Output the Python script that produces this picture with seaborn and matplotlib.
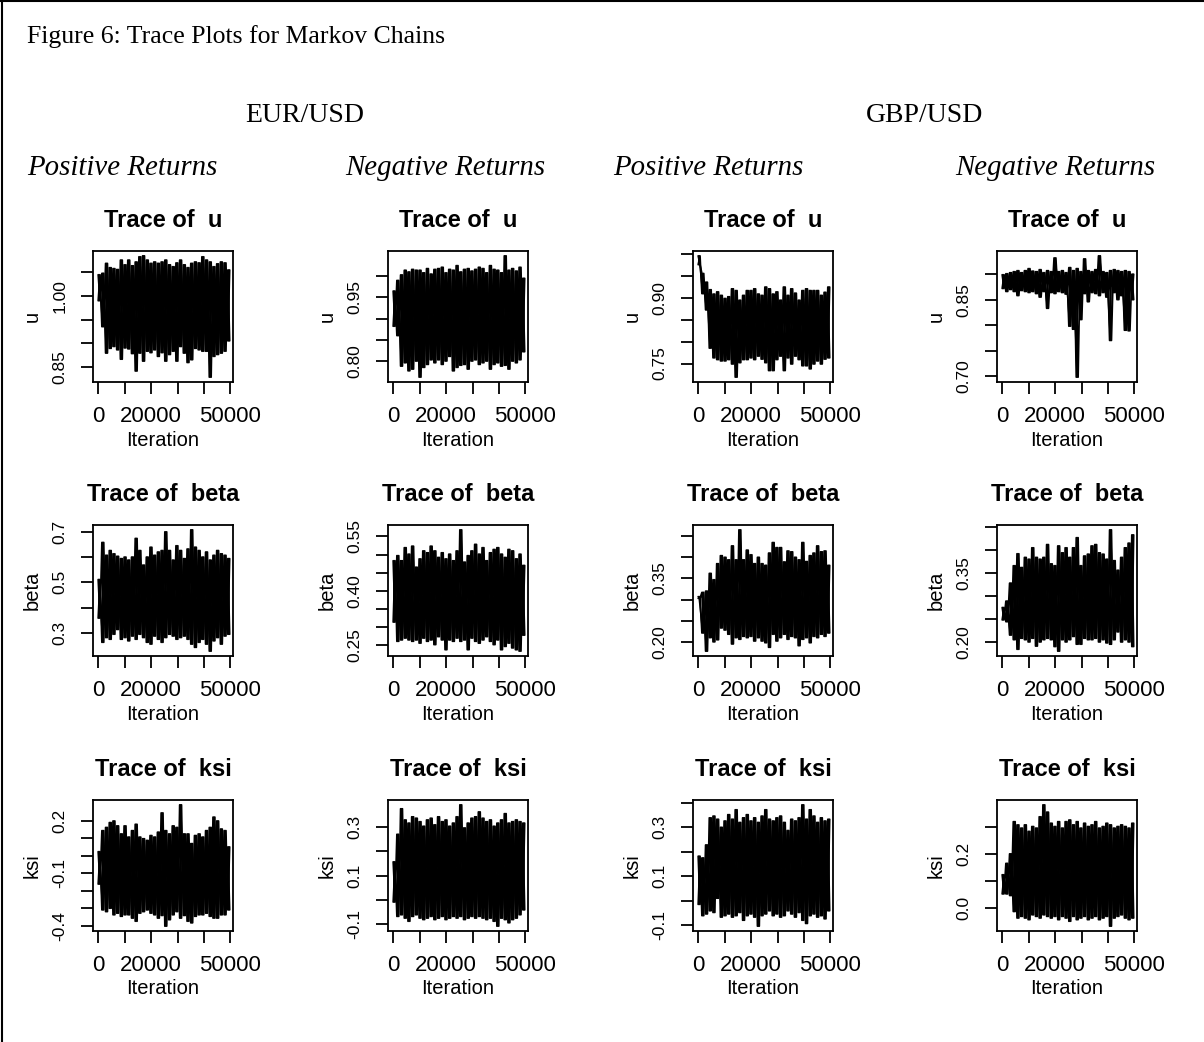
import pandas as pd
import seaborn as sns
import matplotlib.pyplot as plt
from matplotlib.lines import Line2D

W, H = 1204, 1042

# 采样位置 (迭代次数)
iterations = [0, 1400, 2800, 4200, 5600, 7000, 8400, 9800, 11200, 12600,
              14000, 15400, 16800, 18200, 19600, 21000, 22400, 23800, 25200, 26600,
              28000, 29400, 30800, 32200, 33600, 35000, 36400, 37800, 39200, 40600,
              42000, 43400, 44800, 46200, 47600, 49000]

# 每条链在各采样位置的上/下包络
eur_pos_u_hi = [1.045, 1.048, 1.069, 1.060, 1.058, 1.056, 1.076, 1.066, 1.076, 1.064, 1.072, 1.083,
                1.085, 1.076, 1.069, 1.072, 1.069, 1.072, 1.076, 1.066, 1.062, 1.070, 1.076, 1.066,
                1.060, 1.069, 1.072, 1.070, 1.083, 1.076, 1.072, 1.062, 1.068, 1.072, 1.070, 1.055]
eur_pos_u_lo = [0.990, 0.935, 0.879, 0.889, 0.893, 0.886, 0.866, 0.890, 0.888, 0.878, 0.841, 0.879,
                0.862, 0.883, 0.880, 0.886, 0.872, 0.880, 0.862, 0.876, 0.883, 0.862, 0.893, 0.879,
                0.859, 0.865, 0.889, 0.886, 0.883, 0.883, 0.828, 0.872, 0.876, 0.879, 0.883, 0.905]

eur_neg_u_hi = [0.965, 0.990, 1.003, 1.014, 1.010, 1.016, 1.014, 1.014, 1.008, 1.018, 1.005, 1.016,
                1.018, 1.021, 1.008, 1.016, 1.014, 1.025, 1.010, 1.016, 1.018, 1.012, 1.016, 1.021,
                1.018, 1.008, 1.025, 1.016, 1.014, 1.008, 1.048, 1.014, 1.018, 1.012, 1.021, 0.995]
eur_neg_u_lo = [0.882, 0.860, 0.788, 0.796, 0.777, 0.781, 0.800, 0.762, 0.785, 0.792, 0.803, 0.796,
                0.803, 0.792, 0.800, 0.811, 0.777, 0.785, 0.790, 0.792, 0.781, 0.800, 0.803, 0.792,
                0.796, 0.800, 0.781, 0.792, 0.796, 0.788, 0.790, 0.781, 0.800, 0.796, 0.803, 0.822]

gbp_pos_u_hi = [0.995, 0.955, 0.935, 0.918, 0.908, 0.913, 0.905, 0.898, 0.902, 0.920, 0.916, 0.894,
                0.905, 0.916, 0.916, 0.920, 0.908, 0.905, 0.924, 0.920, 0.908, 0.913, 0.894, 0.924,
                0.905, 0.920, 0.910, 0.894, 0.916, 0.920, 0.916, 0.916, 0.916, 0.905, 0.912, 0.924]
gbp_pos_u_lo = [0.975, 0.909, 0.872, 0.785, 0.763, 0.759, 0.756, 0.756, 0.759, 0.749, 0.719, 0.752,
                0.759, 0.759, 0.763, 0.759, 0.767, 0.760, 0.752, 0.734, 0.734, 0.759, 0.767, 0.734,
                0.763, 0.749, 0.767, 0.759, 0.745, 0.745, 0.738, 0.749, 0.756, 0.749, 0.760, 0.763]

gbp_neg_u_hi = [0.899, 0.901, 0.903, 0.905, 0.907, 0.903, 0.907, 0.911, 0.906, 0.905, 0.909, 0.903,
                0.907, 0.905, 0.932, 0.905, 0.907, 0.903, 0.913, 0.907, 0.911, 0.905, 0.930, 0.907,
                0.905, 0.909, 0.936, 0.905, 0.903, 0.907, 0.909, 0.907, 0.905, 0.907, 0.905, 0.900]
gbp_neg_u_lo = [0.872, 0.866, 0.870, 0.866, 0.858, 0.868, 0.866, 0.864, 0.866, 0.862, 0.855, 0.866,
                0.833, 0.864, 0.862, 0.866, 0.864, 0.861, 0.798, 0.792, 0.698, 0.811, 0.862, 0.846,
                0.864, 0.862, 0.858, 0.864, 0.855, 0.770, 0.864, 0.850, 0.858, 0.790, 0.789, 0.850]

eur_pos_beta_hi = [0.511, 0.658, 0.607, 0.626, 0.613, 0.603, 0.594, 0.600, 0.588, 0.600, 0.674, 0.626,
                   0.568, 0.600, 0.639, 0.607, 0.620, 0.626, 0.700, 0.626, 0.588, 0.645, 0.626, 0.594,
                   0.632, 0.708, 0.639, 0.626, 0.600, 0.620, 0.588, 0.607, 0.626, 0.613, 0.607, 0.594]
eur_pos_beta_lo = [0.358, 0.262, 0.281, 0.274, 0.294, 0.313, 0.274, 0.281, 0.268, 0.287, 0.274, 0.294,
                   0.281, 0.262, 0.255, 0.287, 0.274, 0.262, 0.281, 0.294, 0.287, 0.274, 0.281, 0.287,
                   0.274, 0.255, 0.242, 0.262, 0.274, 0.255, 0.227, 0.268, 0.281, 0.255, 0.287, 0.294]

eur_neg_beta_hi = [0.483, 0.497, 0.483, 0.519, 0.501, 0.523, 0.465, 0.488, 0.510, 0.505, 0.523, 0.510,
                   0.492, 0.505, 0.488, 0.501, 0.483, 0.510, 0.568, 0.479, 0.497, 0.510, 0.528, 0.501,
                   0.519, 0.483, 0.505, 0.514, 0.519, 0.501, 0.492, 0.514, 0.510, 0.488, 0.501, 0.470]
eur_neg_beta_lo = [0.314, 0.261, 0.265, 0.270, 0.265, 0.261, 0.265, 0.256, 0.270, 0.261, 0.265, 0.252,
                   0.274, 0.265, 0.238, 0.265, 0.261, 0.270, 0.261, 0.265, 0.238, 0.270, 0.261, 0.256,
                   0.265, 0.274, 0.261, 0.252, 0.265, 0.238, 0.247, 0.256, 0.243, 0.238, 0.234, 0.278]

gbp_pos_beta_hi = [0.307, 0.317, 0.320, 0.362, 0.347, 0.385, 0.404, 0.400, 0.394, 0.427, 0.394, 0.465,
                   0.394, 0.417, 0.406, 0.385, 0.400, 0.385, 0.381, 0.410, 0.435, 0.423, 0.423, 0.389,
                   0.415, 0.413, 0.400, 0.394, 0.435, 0.390, 0.404, 0.410, 0.427, 0.413, 0.415, 0.381]
gbp_pos_beta_lo = [0.303, 0.221, 0.178, 0.210, 0.200, 0.205, 0.233, 0.228, 0.218, 0.195, 0.210, 0.206,
                   0.213, 0.210, 0.213, 0.202, 0.210, 0.202, 0.198, 0.187, 0.218, 0.202, 0.210, 0.218,
                   0.206, 0.213, 0.210, 0.191, 0.206, 0.210, 0.198, 0.213, 0.210, 0.218, 0.213, 0.221]

gbp_neg_beta_hi = [0.275, 0.289, 0.328, 0.366, 0.392, 0.362, 0.384, 0.380, 0.405, 0.384, 0.380, 0.384,
                   0.412, 0.370, 0.366, 0.409, 0.394, 0.405, 0.384, 0.405, 0.427, 0.366, 0.387, 0.391,
                   0.409, 0.412, 0.394, 0.391, 0.380, 0.444, 0.377, 0.356, 0.384, 0.405, 0.415, 0.433]
gbp_neg_beta_lo = [0.248, 0.244, 0.215, 0.205, 0.184, 0.208, 0.205, 0.200, 0.208, 0.191, 0.200, 0.205,
                   0.208, 0.205, 0.190, 0.180, 0.205, 0.200, 0.205, 0.212, 0.195, 0.195, 0.208, 0.205,
                   0.205, 0.208, 0.200, 0.205, 0.198, 0.195, 0.205, 0.222, 0.200, 0.205, 0.200, 0.190]

eur_pos_ksi_hi = [0.024, 0.144, 0.162, 0.190, 0.199, 0.171, 0.125, 0.171, 0.107, 0.144, 0.180, 0.107,
                  0.098, 0.088, 0.116, 0.107, 0.135, 0.245, 0.144, 0.125, 0.171, 0.162, 0.291, 0.125,
                  0.125, 0.070, 0.116, 0.125, 0.107, 0.144, 0.162, 0.221, 0.199, 0.153, 0.144, 0.051]
eur_pos_ksi_lo = [-0.161, -0.308, -0.318, -0.299, -0.336, -0.327, -0.345, -0.336, -0.336, -0.355,
                  -0.373, -0.327, -0.318, -0.308, -0.327, -0.336, -0.355, -0.340, -0.401, -0.364,
                  -0.336, -0.318, -0.355, -0.340, -0.373, -0.382, -0.345, -0.336, -0.336, -0.327,
                  -0.345, -0.355, -0.355, -0.336, -0.336, -0.308]

eur_neg_ksi_hi = [0.157, 0.270, 0.375, 0.329, 0.316, 0.342, 0.336, 0.322, 0.303, 0.329, 0.336, 0.309,
                  0.342, 0.322, 0.329, 0.303, 0.316, 0.342, 0.391, 0.296, 0.316, 0.336, 0.342, 0.362,
                  0.336, 0.322, 0.329, 0.303, 0.316, 0.329, 0.355, 0.316, 0.322, 0.329, 0.322, 0.316]
eur_neg_ksi_lo = [-0.008, -0.067, -0.060, -0.074, -0.087, -0.067, -0.060, -0.074, -0.080, -0.074,
                  -0.067, -0.080, -0.074, -0.067, -0.080, -0.074, -0.067, -0.074, -0.067, -0.080,
                  -0.074, -0.067, -0.074, -0.067, -0.074, -0.080, -0.074, -0.087, -0.107, -0.074,
                  -0.080, -0.093, -0.080, -0.074, -0.060, -0.040]

gbp_pos_ksi_hi = [0.182, 0.175, 0.228, 0.339, 0.346, 0.333, 0.300, 0.326, 0.352, 0.333, 0.372, 0.320,
                  0.339, 0.352, 0.326, 0.339, 0.320, 0.346, 0.372, 0.333, 0.326, 0.339, 0.346, 0.320,
                  0.287, 0.333, 0.326, 0.339, 0.392, 0.333, 0.372, 0.346, 0.320, 0.339, 0.326, 0.333]
gbp_pos_ksi_lo = [-0.015, -0.061, -0.054, -0.041, -0.048, 0.010, -0.067, -0.061, -0.054, -0.067,
                  -0.061, -0.048, -0.080, -0.061, -0.054, -0.067, -0.104, -0.061, -0.054, -0.041,
                  -0.061, -0.054, -0.067, -0.061, -0.041, -0.054, -0.067, -0.048, -0.080, -0.093,
                  -0.061, -0.054, -0.067, -0.061, -0.074, -0.041]

gbp_neg_ksi_hi = [0.122, 0.164, 0.199, 0.318, 0.306, 0.294, 0.306, 0.282, 0.300, 0.294, 0.336, 0.380,
                  0.353, 0.312, 0.300, 0.318, 0.294, 0.318, 0.324, 0.306, 0.318, 0.294, 0.312, 0.300,
                  0.306, 0.318, 0.294, 0.300, 0.312, 0.306, 0.294, 0.300, 0.306, 0.300, 0.294, 0.312]
gbp_neg_ksi_lo = [0.051, 0.051, 0.045, -0.014, -0.038, -0.032, -0.038, -0.044, -0.026, -0.032,
                  -0.038, -0.026, -0.032, -0.038, -0.032, -0.044, -0.032, -0.038, -0.050, -0.032,
                  -0.044, -0.038, -0.032, -0.044, -0.038, -0.032, -0.044, -0.038, -0.032, -0.068,
                  -0.038, -0.032, -0.026, -0.038, -0.044, -0.038]

# 坐标轴刻度
x_ticks = [0, 10000, 20000, 30000, 40000, 50000]
x_ticklabels = ['0', '', '20000', '', '', '50000']

panels = [
    # (行, 列, 参数, 上包络, 下包络, y刻度, y刻度标签)
    (0, 0, 'u', eur_pos_u_hi, eur_pos_u_lo, [0.85, 0.90, 0.95, 1.00, 1.05], ['0.85', '', '', '1.00', '']),
    (0, 1, 'u', eur_neg_u_hi, eur_neg_u_lo, [0.80, 0.85, 0.90, 0.95, 1.00], ['0.80', '', '', '0.95', '']),
    (0, 2, 'u', gbp_pos_u_hi, gbp_pos_u_lo, [0.75, 0.80, 0.85, 0.90, 0.95, 1.00], ['0.75', '', '', '0.90', '', '']),
    (0, 3, 'u', gbp_neg_u_hi, gbp_neg_u_lo, [0.70, 0.75, 0.80, 0.85, 0.90], ['0.70', '', '', '0.85', '']),
    (1, 0, 'beta', eur_pos_beta_hi, eur_pos_beta_lo, [0.3, 0.4, 0.5, 0.6, 0.7], ['0.3', '', '0.5', '', '0.7']),
    (1, 1, 'beta', eur_neg_beta_hi, eur_neg_beta_lo, [0.25, 0.30, 0.35, 0.40, 0.45, 0.50, 0.55],
     ['0.25', '', '', '0.40', '', '', '0.55']),
    (1, 2, 'beta', gbp_pos_beta_hi, gbp_pos_beta_lo, [0.20, 0.25, 0.30, 0.35, 0.40, 0.45],
     ['0.20', '', '', '0.35', '', '']),
    (1, 3, 'beta', gbp_neg_beta_hi, gbp_neg_beta_lo, [0.20, 0.25, 0.30, 0.35, 0.40, 0.45],
     ['0.20', '', '', '0.35', '', '']),
    (2, 0, 'ksi', eur_pos_ksi_hi, eur_pos_ksi_lo, [-0.4, -0.3, -0.2, -0.1, 0.0, 0.1, 0.2],
     ['-0.4', '', '', '-0.1', '', '', '0.2']),
    (2, 1, 'ksi', eur_neg_ksi_hi, eur_neg_ksi_lo, [-0.1, 0.0, 0.1, 0.2, 0.3], ['-0.1', '', '0.1', '', '0.3']),
    (2, 2, 'ksi', gbp_pos_ksi_hi, gbp_pos_ksi_lo, [-0.1, 0.0, 0.1, 0.2, 0.3, 0.4],
     ['-0.1', '', '0.1', '', '0.3', '']),
    (2, 3, 'ksi', gbp_neg_ksi_hi, gbp_neg_ksi_lo, [0.0, 0.1, 0.2, 0.3], ['0.0', '', '0.2', '']),
]

sns.set_theme(style='ticks')
plt.rcParams['font.family'] = ['Liberation Sans', 'DejaVu Sans']
plt.rcParams['text.color'] = 'black'
plt.rcParams['axes.labelcolor'] = 'black'
plt.rcParams['xtick.color'] = 'black'
plt.rcParams['ytick.color'] = 'black'

col_left = [93, 388, 693, 997]
row_top = [251, 525, 800]
box_w, box_h = 140, 131


def trace_frame(hi, lo):
    # 上下包络交替连接 (三种相位), 画成密集的轨迹带
    rows = []
    for it, a, b in zip(iterations, lo, hi):
        rows += [(it, a, 0), (it + 700, b, 0)]
        rows += [(it, b, 1), (it + 700, a, 1)]
        rows += [(it + 350, a, 2), (it + 350, b, 2)]
    return pd.DataFrame(rows, columns=['Iteration', 'value', 'phase'])


fig = plt.figure(figsize=(W / 100, H / 100), dpi=100)

for row, col, name, hi, lo, yt, ytl in panels:
    ax = fig.add_axes([col_left[col] / W, 1 - (row_top[row] + box_h) / H, box_w / W, box_h / H])
    sns.lineplot(data=trace_frame(hi, lo), x='Iteration', y='value', units='phase', sort=False,
                 estimator=None, color='black', linewidth=1.25, ax=ax)

    # R 默认的 4% 扩展
    span = max(hi) - min(lo)
    ax.set_ylim(min(lo) - 0.04 * span, max(hi) + 0.04 * span)
    ax.set_xlim(-0.04 * 49000, 49000 * 1.04)

    ax.set_xticks(x_ticks)
    ax.set_xticklabels(x_ticklabels, fontsize=16)
    ax.set_yticks(yt)
    ax.set_yticklabels(ytl, fontsize=12.5, rotation=90, va='center', ha='center')
    ax.tick_params(axis='x', length=8.6, width=1.3, pad=9, color='black')
    ax.tick_params(axis='y', length=8.6, width=1.3, pad=15, color='black')
    for sp in ax.spines.values():
        sp.set_linewidth(1.3)
        sp.set_color('black')

    ax.set_title('Trace of  ' + name, fontsize=17, fontweight='bold', pad=17)
    ax.set_xlabel('Iteration', fontsize=14.5)
    ax.xaxis.set_label_coords(0.5, -58 / box_h)
    ax.xaxis.label.set_verticalalignment('center')
    ax.set_ylabel(name, fontsize=14.5)
    ax.yaxis.set_label_coords(-61 / box_w, 0.5)
    ax.yaxis.label.set_verticalalignment('center')

# 标题和分组文字
serif = ['Liberation Serif', 'DejaVu Serif']
fig.text(27 / W, 1 - 37 / H, 'Figure 6: Trace Plots for Markov Chains', family=serif,
         fontsize=18.5, ha='left', va='center')
fig.text(305 / W, 1 - 115 / H, 'EUR/USD', family=serif, fontsize=20, ha='center', va='center')
fig.text(925 / W, 1 - 115 / H, 'GBP/USD', family=serif, fontsize=20, ha='center', va='center')
for x, label in [(27, 'Positive Returns'), (345, 'Negative Returns'),
                 (613, 'Positive Returns'), (955, 'Negative Returns')]:
    fig.text(x / W, 1 - 168 / H, label, family=serif, style='italic', fontsize=20.8,
             ha='left', va='center')

# 外框 (左边和上边)
fig.add_artist(Line2D([1.5 / W, 1.5 / W], [0, 1], color='black', lw=1.5))
fig.add_artist(Line2D([0, 1], [1 - 1 / H, 1 - 1 / H], color='black', lw=1.5))

fig.savefig('out.png', dpi=100)
